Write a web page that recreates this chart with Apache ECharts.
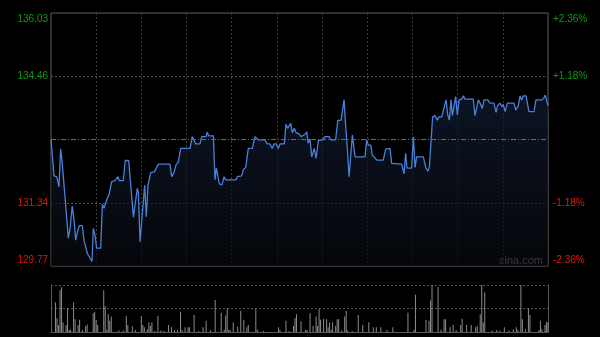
<!DOCTYPE html>
<html><head><meta charset="utf-8">
<script src="https://cdn.jsdelivr.net/npm/echarts@6/dist/echarts.min.js"></script>
<style>html,body{margin:0;padding:0;background:#000;}#c{width:600px;height:337px;}</style>
</head><body><div id="c"></div>
<script>
// minutes since open (330-minute HK trading session) and prices
var minutes = [0,2,3.8,5.3,6.4,7.3,8.2,9.3,10.4,11.5,12.6,13.3,14.1,15.3,16.4,17.9,18.8,20.8,21.9,22.8,24.1,25.4,27.2,28.1,29.2,30.3,33,34.1,35.2,36.3,37.4,38.5,40.3,42.5,43.6,44.5,45.4,48,49.3,51.6,53.6,54.7,56,57.3,58,59.1,60.4,62.2,63.3,64.4,66.2,68.6,70.2,71.3,79,80.1,81.7,83,84.5,86.1,92.3,93.8,95,96.1,98.9,100.1,102.9,103.8,104.7,107.8,108.9,109.8,110.7,111.8,113.5,114.9,116,122.8,123.7,126.6,127.7,129.3,131,133.7,135.5,136.8,137.7,142.1,143.6,145.4,146.9,148.1,149.6,150.9,152.1,154.9,156,157.2,158,159.2,160.2,161.6,162.7,164.7,166,168.7,169.8,170.8,172,173.1,174.2,174.8,176,177.5,180.4,181.9,184.6,185.9,189,190.4,192.6,194.6,195.7,196.7,197.9,199,200.1,200.7,201.9,208.5,209.6,210.7,212.3,213.3,214.5,216.3,220.6,222.2,225.1,226.2,232.9,234.4,235.5,236.4,239.4,240.6,241.7,242.8,247.2,249,250.3,251.2,253.4,255,256.5,257.6,259.4,260.5,262.3,263.4,264.5,265.6,266.5,267.8,268.7,269.8,270.9,272.7,273.8,274.9,280.4,281.5,282.7,283.7,284.9,286.4,287.5,290,291.5,294.1,295.5,296.6,298.1,299.5,300.3,301.5,303,307.4,308.6,310.3,311.4,312.5,313.6,315.4,317.4,320.7,322,325.8,327.3,328.2,330];
var prices = [132.89,132.00,131.98,131.73,132.67,132.38,132.38,131.48,131.45,130.46,130.69,130.71,131.25,130.91,130.41,130.66,130.77,130.77,130.41,130.37,130.08,130.00,129.88,130.70,130.54,130.21,130.21,131.30,131.20,131.20,131.45,131.53,131.86,131.88,131.90,131.98,131.88,131.88,132.38,132.38,131.48,130.98,130.98,131.69,131.61,130.37,130.37,131.77,130.99,131.77,132.08,132.10,132.21,132.29,132.29,131.98,132.08,132.27,132.34,132.68,132.68,132.97,132.97,132.79,132.79,132.97,132.97,133.08,132.99,132.99,131.90,132.19,132.19,131.80,131.78,131.98,131.90,131.90,131.98,132.00,132.15,132.21,132.68,132.68,132.97,132.97,132.89,132.89,132.79,132.79,132.68,132.79,132.79,132.68,132.79,132.79,133.28,133.18,133.19,133.30,133.07,133.18,133.07,133.04,132.97,133.03,133.09,132.81,132.91,132.47,132.49,132.68,132.43,132.87,132.89,132.97,132.97,132.89,132.89,133.37,133.38,133.88,133.22,132.72,131.98,131.98,133.01,132.97,132.47,132.47,132.89,132.76,132.76,132.52,132.47,132.39,132.39,132.66,132.68,132.31,132.29,132.05,132.56,132.19,132.19,132.97,132.21,132.47,132.47,132.19,132.12,132.21,133.46,133.49,133.38,133.46,133.46,133.42,133.88,133.52,133.38,133.88,133.49,133.49,133.96,133.51,133.88,133.90,133.98,133.90,133.90,133.49,133.49,133.88,133.80,133.67,133.88,133.88,133.80,133.80,133.57,133.75,133.80,133.71,133.77,133.59,133.80,133.80,133.63,133.74,133.98,133.88,133.98,133.98,133.59,133.59,133.88,133.88,133.93,134.00,133.74];
var volMinutes = [3,4,5,6,7,8,10,11,12,13,15,16,18,19,21,23,24,28,29,30,31,35,36,37,38,39,40,45,48,50,51,54,56,60,61,62,64,65,66,67,69,71,73,75,78,80,82,84,86,87,89,91,92,95,98,101,103,106,109,113,115,116,117,118,119,121,124,126,128,130,131,136,137,141,151,152,156,158,161,162,163,166,169,170,172,174,176,177,178,179,181,183,184,185,186,187,189,190,191,193,195,196,197,200,204,207,211,214,216,219,223,227,237,241,242,249,251,252,253,257,259,261,262,265,267,269,272,273,276,279,282,283,285,286,287,288,293,296,298,301,304,307,309,310,312,313,315,317,318,324,325,326,328,329,330];
var volumes = [63,29,15,89,95,20,15,50,4,5,63,27,15,26,5,12,16,40,43,26,15,89,55,5,38,24,33,3,3,34,15,12,4,34,15,10,6,20,13,21,2,34,3,2,15,10,4,4,43,4,10,10,10,36,2,10,24,4,68,41,5,35,50,4,4,20,11,45,26,10,15,50,5,2,10,5,24,2,13,30,38,23,4,4,40,13,33,13,49,26,28,27,10,20,5,21,13,27,27,3,33,45,3,2,36,15,21,10,10,10,4,10,41,5,79,26,24,67,100,96,5,27,27,10,15,4,15,28,15,15,10,13,38,100,20,84,3,4,3,10,3,6,10,4,100,27,6,50,36,4,24,6,15,21,21];
var prevClose = 132.90;
var priceTicks = ['129.77','131.34','132.90','134.46','136.03'];
var pctTicks = ['-2.36%','-1.18%','0.00%','+1.18%','+2.36%'];

var lineData = minutes.map(function(m,i){return [m, prices[i]];});
var volData = volMinutes.map(function(m,i){return [m, volumes[i]];});

var GREEN = '#119911', RED = '#dd1a0e';
function richFmt(labels){
  return function(v, i){
    if (i === 2) return '';
    var key = (i === 4) ? 'top' : (i === 0 ? 'bot' : (i === 3 ? 'g' : 'r'));
    return '{' + key + '|' + labels[i] + '}';
  };
}
var rich = {
  top: {color: GREEN, padding: [12,0,0,0], fontSize: 10, fontFamily: 'Liberation Sans, Arial, sans-serif'},
  g:   {color: GREEN, fontSize: 10, fontFamily: 'Liberation Sans, Arial, sans-serif'},
  r:   {color: RED, fontSize: 10, fontFamily: 'Liberation Sans, Arial, sans-serif'},
  bot: {color: RED, padding: [0,0,12,0], fontSize: 10, fontFamily: 'Liberation Sans, Arial, sans-serif'}
};
var GRIDC = '#3a3a3a';
var chart = echarts.init(document.getElementById('c'), null, {renderer: 'canvas'});
chart.setOption({
  backgroundColor: '#000',
  animation: false,
  grid: [
    {left: 51, top: 13, width: 497, height: 253, show: true, borderColor: '#5a5a5a', borderWidth: 1, backgroundColor: 'transparent'},
    {left: 51, top: 285, width: 497, height: 47, show: false}
  ],
  xAxis: [
    {type: 'value', gridIndex: 0, min: 0, max: 330, interval: 30,
     axisLine: {show: false}, axisTick: {show: false}, axisLabel: {show: false},
     splitLine: {show: true, lineStyle: {color: GRIDC, type: [2,2], width: 1}}},
    {type: 'value', gridIndex: 1, min: 0, max: 330, interval: 330,
     axisLine: {show: true, onZero: false, lineStyle: {color: '#5a5a5a'}}, axisTick: {show: false}, axisLabel: {show: false},
     splitLine: {show: false}}
  ],
  yAxis: [
    {type: 'value', gridIndex: 0, min: 129.77, max: 136.03, interval: 1.565, position: 'left',
     axisLine: {show: false}, axisTick: {show: false},
     axisLabel: {margin: 3, formatter: richFmt(priceTicks), rich: rich},
     splitLine: {show: true, lineStyle: {color: [GRIDC, '#555', 'transparent', '#555', GRIDC], type: [2,2], width: 1}}},
    {type: 'value', gridIndex: 0, min: 129.77, max: 136.03, interval: 1.565, position: 'right',
     axisLine: {show: false}, axisTick: {show: false},
     axisLabel: {margin: 5, formatter: richFmt(pctTicks), rich: rich},
     splitLine: {show: false}},
    {type: 'value', gridIndex: 1, min: 0, max: 100, interval: 50, position: 'left',
     axisLine: {show: true, lineStyle: {color: '#5a5a5a'}}, axisTick: {show: false}, axisLabel: {show: false},
     splitLine: {show: true, lineStyle: {color: '#555', type: [2,2]}}},
    {type: 'value', gridIndex: 1, min: 0, max: 100, interval: 50, position: 'right',
     axisLine: {show: true, lineStyle: {color: '#5a5a5a'}}, axisTick: {show: false}, axisLabel: {show: false},
     splitLine: {show: false}}
  ],
  series: [
    {type: 'line', xAxisIndex: 0, yAxisIndex: 0, data: lineData, showSymbol: false, symbol: 'none',
     lineStyle: {color: '#4a80d8', width: 1.3},
     areaStyle: {origin: 'start', color: new echarts.graphic.LinearGradient(0,0,0,1,[{offset:0,color:'#111d33'},{offset:1,color:'#07090e'}])},
     markLine: {silent: true, symbol: 'none', label: {show: false},
       lineStyle: {color: '#6a6a6a', type: [5,2,1,2], width: 1},
       data: [{yAxis: prevClose}]}},
    {type: 'bar', xAxisIndex: 1, yAxisIndex: 2, data: volData, barWidth: 1,
     itemStyle: {color: '#8c8c8c'}}
  ],
  graphic: [
    {type: 'text', left: 499, top: 255, silent: true,
     style: {text: 'sina.com', fill: '#a0a0a0', font: '11px "Liberation Sans", Arial, sans-serif'}}
  ]
});
</script></body></html>
